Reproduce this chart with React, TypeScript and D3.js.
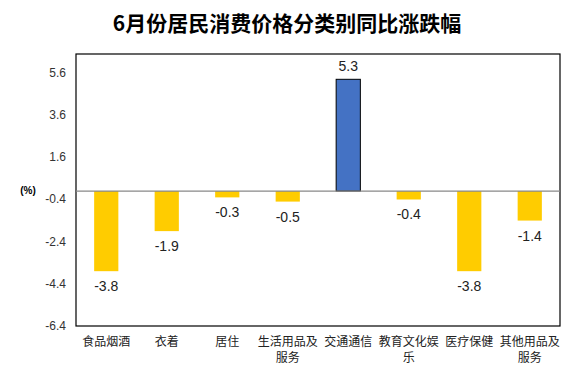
import React, { useEffect, useRef } from "react";
import * as d3 from "d3";

const categories: string[][] = [
  ["食品烟酒"],
  ["衣着"],
  ["居住"],
  ["生活用品及", "服务"],
  ["交通通信"],
  ["教育文化娱", "乐"],
  ["医疗保健"],
  ["其他用品及", "服务"],
];
const values: number[] = [-3.8, -1.9, -0.3, -0.5, 5.3, -0.4, -3.8, -1.4];
const yTicks: number[] = [-6.4, -4.4, -2.4, -0.4, 1.6, 3.6, 5.6];
const title = "6月份居民消费价格分类别同比涨跌幅";

export default function App() {
  const svgRef = useRef<SVGSVGElement>(null);

  useEffect(() => {
    const width = 574;
    const height = 374;
    const margin = { top: 54, right: 14, bottom: 48, left: 76 };
    const font = "'Liberation Sans', Arial, 'Noto Sans CJK SC', sans-serif";

    const svg = d3.select(svgRef.current);
    svg.selectAll("*").remove();
    svg.attr("width", width).attr("height", height).style("display", "block");

    const x = d3
      .scaleBand<number>()
      .domain(d3.range(values.length))
      .range([margin.left, width - margin.right])
      .paddingInner(0.6)
      .paddingOuter(0.3);
    const y = d3
      .scaleLinear()
      .domain([-6.4, 6.5])
      .range([height - margin.bottom, margin.top]);

    svg.append("rect").attr("width", width).attr("height", height).attr("fill", "#fff");

    // title
    svg
      .append("text")
      .attr("x", 287)
      .attr("y", 31)
      .attr("text-anchor", "middle")
      .attr("font-family", "'Noto Sans CJK SC', sans-serif")
      .attr("font-weight", "bold")
      .attr("font-size", 21)
      .text(title);

    // plot frame
    svg
      .append("rect")
      .attr("x", margin.left)
      .attr("y", margin.top)
      .attr("width", width - margin.left - margin.right)
      .attr("height", height - margin.top - margin.bottom)
      .attr("fill", "none")
      .attr("stroke", "#000")
      .attr("stroke-width", 1.2);

    // y axis labels
    svg
      .append("g")
      .selectAll("text")
      .data(yTicks)
      .join("text")
      .attr("x", margin.left - 10)
      .attr("y", (d) => y(d) + 4)
      .attr("text-anchor", "end")
      .attr("font-family", font)
      .attr("font-size", 12)
      .attr("fill", "#333")
      .text((d) => d.toFixed(1));

    svg
      .append("text")
      .attr("x", 28)
      .attr("y", 194)
      .attr("text-anchor", "middle")
      .attr("font-family", font)
      .attr("font-weight", "bold")
      .attr("font-size", 10)
      .text("(%)");

    // bars
    svg
      .append("g")
      .selectAll("rect")
      .data(values)
      .join("rect")
      .attr("x", (_, i) => x(i)!)
      .attr("width", x.bandwidth())
      .attr("y", (d) => (d > 0 ? y(d) : y(0)))
      .attr("height", (d) => Math.abs(y(d) - y(0)))
      .attr("fill", (d) => (d > 0 ? "#4472C4" : "#FFCC00"))
      .attr("stroke", (d) => (d > 0 ? "#000" : "none"))
      .attr("stroke-width", 1);

    // zero line
    svg
      .append("line")
      .attr("x1", margin.left)
      .attr("x2", width - margin.right)
      .attr("y1", y(0))
      .attr("y2", y(0))
      .attr("stroke", "#888")
      .attr("stroke-width", 1.2);

    // value labels
    svg
      .append("g")
      .selectAll("text")
      .data(values)
      .join("text")
      .attr("x", (_, i) => x(i)! + x.bandwidth() / 2)
      .attr("y", (d) => (d > 0 ? y(d) - 8 : y(d) + 20))
      .attr("text-anchor", "middle")
      .attr("font-family", font)
      .attr("font-size", 14)
      .attr("fill", "#222")
      .text((d) => d.toFixed(1));

    // category labels
    const cat = svg
      .append("g")
      .selectAll("text")
      .data(categories)
      .join("text")
      .attr("x", (_, i) => x(i)! + x.bandwidth() / 2)
      .attr("y", height - margin.bottom + 20)
      .attr("text-anchor", "middle")
      .attr("font-family", "'Noto Sans CJK SC', sans-serif")
      .attr("font-size", 12)
      .attr("fill", "#222");
    cat
      .selectAll("tspan")
      .data((d) => d)
      .join("tspan")
      .attr("x", function () {
        return (this.parentNode as SVGTextElement).getAttribute("x");
      })
      .attr("dy", (_, j) => (j === 0 ? 0 : 16))
      .text((d) => d);
  }, []);

  return <svg ref={svgRef} style={{ position: "absolute", left: 0, top: 0 }}></svg>;
}
